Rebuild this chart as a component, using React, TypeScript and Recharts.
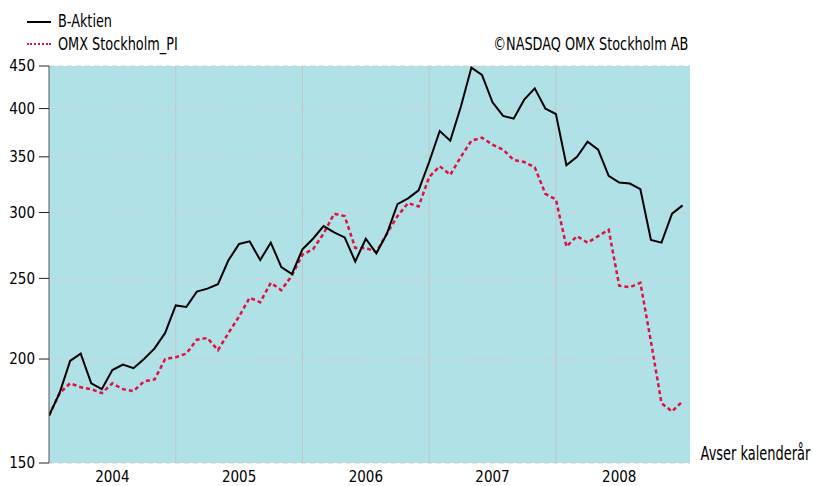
import { LineChart, Line, XAxis, YAxis, CartesianGrid, ReferenceLine } from 'recharts';

// month-end values, Dec 2003 .. Dec 2008
const bAktien = [
  171, 182, 199, 203, 187, 184, 194, 197, 195, 200, 206, 215,
  232, 231, 241, 243, 246, 263, 275, 277, 263, 276, 258, 253,
  271, 279, 289, 284, 280, 262, 279, 268, 283, 307, 312, 319,
  345, 376, 366, 402, 448, 439, 407, 392, 389, 410, 423, 400,
  394, 342, 350, 365, 357, 332, 326, 325, 320, 278, 276, 299, 306,
];
const omxPI = [
  171, 182, 187, 185, 184, 182, 187, 184, 183, 188, 189, 200,
  201, 203, 211, 212, 205, 215, 225, 237, 234, 247, 242, 252,
  267, 271, 283, 299, 297, 272, 272, 269, 283, 297, 308, 305,
  331, 341, 333, 350, 366, 369, 362, 357, 347, 345, 340, 316,
  311, 273, 281, 276, 281, 286, 245, 244, 247, 210, 177, 173, 178,
];
const years = ['2004', '2005', '2006', '2007', '2008'];
const yTicks = [150, 200, 250, 300, 350, 400, 450];

const data = bAktien.map((v, i) => ({ m: i, b: v, omx: omxPI[i] }));
const yearMid = years.map((_, i) => 6 + 12 * i);
const yearEnds = [12, 24, 36, 48];

const font = "'Liberation Sans Narrow', 'DejaVu Sans Condensed', 'Roboto', sans-serif";
const narrow = { transform: 'scaleX(0.84)', whiteSpace: 'nowrap' as const };

export default function App() {
  return (
    <div style={{ position: 'absolute', left: 0, top: 0, width: 813, height: 486, fontFamily: font, background: '#fff', overflow: 'hidden' }}>
      <LineChart width={813} height={486} data={data} margin={{ top: 66, right: 123, left: 0, bottom: 0 }}>
        <CartesianGrid horizontal vertical={false} fill="#afe1e7" stroke="#d4cccc" strokeDasharray="5 4" />
        {yearEnds.map((x) => (
          <ReferenceLine key={x} x={x} stroke="#c4c4c4" strokeWidth={1} />
        ))}
        <XAxis
          type="number"
          dataKey="m"
          domain={[0, 60.7]}
          ticks={yearMid}
          tickFormatter={(v: number) => years[(v - 6) / 12]}
          axisLine={false}
          tickLine={false}
          height={23}
          tick={{ fontSize: 15, fill: '#000', fontFamily: font }}
          allowDataOverflow
        />
        <YAxis
          scale="log"
          domain={[150, 450]}
          ticks={yTicks}
          width={49}
          tickSize={10}
          tickMargin={4}
          axisLine={{ stroke: '#555' }}
          tickLine={{ stroke: '#222' }}
          tick={{ fontSize: 15, fill: '#000', fontFamily: font }}
          allowDataOverflow
        />
        <Line type="linear" dataKey="omx" stroke="#e0103f" strokeWidth={2.5} strokeDasharray="4 3" dot={false} isAnimationActive={false} />
        <Line type="linear" dataKey="b" stroke="#000" strokeWidth={2} dot={false} isAnimationActive={false} />
      </LineChart>

      <div style={{ position: 'absolute', left: 27, top: 21, width: 24, borderTop: '2px solid #000' }} />
      <div style={{ position: 'absolute', left: 58, top: 11, fontSize: 17, lineHeight: '20px', transformOrigin: 'left', ...narrow }}>B-Aktien</div>
      <div style={{ position: 'absolute', left: 27, top: 43, width: 24, borderTop: '2px dotted #e0103f' }} />
      <div style={{ position: 'absolute', left: 58, top: 34, fontSize: 17, lineHeight: '20px', transformOrigin: 'left', ...narrow }}>OMX Stockholm_PI</div>
      <div style={{ position: 'absolute', right: 125, top: 34, fontSize: 17, lineHeight: '20px', transformOrigin: 'right', ...narrow }}>©NASDAQ OMX Stockholm AB</div>
      <div style={{ position: 'absolute', right: 3, top: 441, fontSize: 20, lineHeight: '24px', transformOrigin: 'right', whiteSpace: 'nowrap', transform: 'scaleX(0.72)' }}>Avser kalenderår</div>
    </div>
  );
}
